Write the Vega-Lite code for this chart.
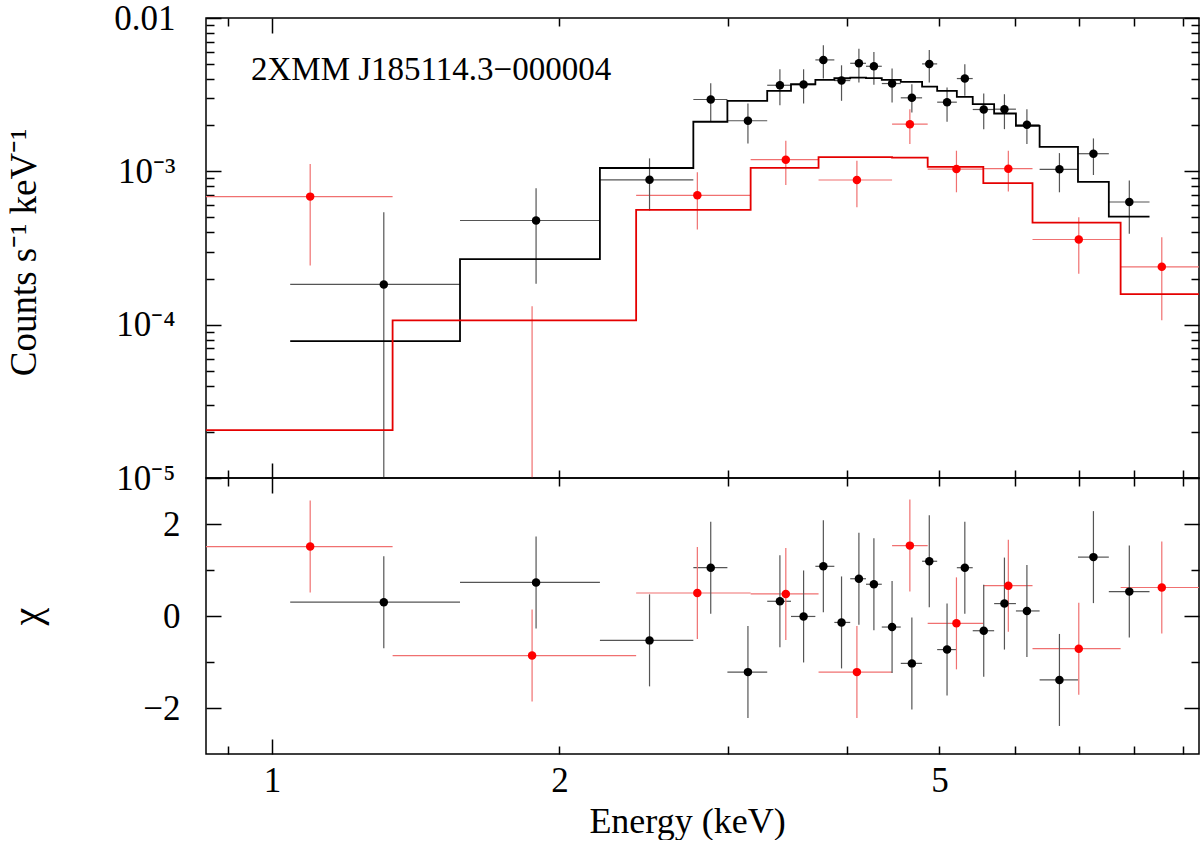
{
  "$schema": "https://vega.github.io/schema/vega-lite/v6.json",
  "background": "white",
  "padding": {"left": 4, "top": 0, "right": 2, "bottom": 0},
  "datasets": {
    "spectrum": [
      {"inst": "pn", "E": 1.3096, "E_lo": 1.045, "E_hi": 1.5738, "flux": 1.83e-4, "flux_lo": 5e-6, "flux_hi": 5.41e-4, "chi": 0.30, "chi_lo": -0.70, "chi_hi": 1.30},
      {"inst": "pn", "E": 1.8906, "E_lo": 1.5738, "E_hi": 2.2052, "flux": 4.78e-4, "flux_lo": 1.85e-4, "flux_hi": 7.75e-4, "chi": 0.73, "chi_lo": -0.27, "chi_hi": 1.73},
      {"inst": "pn", "E": 2.4855, "E_lo": 2.2052, "E_hi": 2.7624, "flux": 8.8e-4, "flux_lo": 5.55e-4, "flux_hi": 1.215e-3, "chi": -0.53, "chi_lo": -1.53, "chi_hi": 0.47},
      {"inst": "pn", "E": 2.8807, "E_lo": 2.7624, "E_hi": 2.9988, "flux": 2.94e-3, "flux_lo": 2.105e-3, "flux_hi": 3.75e-3, "chi": 1.05, "chi_lo": 0.05, "chi_hi": 2.05},
      {"inst": "pn", "E": 3.1511, "E_lo": 2.9988, "E_hi": 3.301, "flux": 2.137e-3, "flux_lo": 1.521e-3, "flux_hi": 2.77e-3, "chi": -1.22, "chi_lo": -2.22, "chi_hi": -0.22},
      {"inst": "pn", "E": 3.4036, "E_lo": 3.301, "E_hi": 3.4958, "flux": 3.642e-3, "flux_lo": 2.70e-3, "flux_hi": 4.63e-3, "chi": 0.32, "chi_lo": -0.68, "chi_hi": 1.32},
      {"inst": "pn", "E": 3.6036, "E_lo": 3.4958, "E_hi": 3.7074, "flux": 3.681e-3, "flux_lo": 2.77e-3, "flux_hi": 4.63e-3, "chi": -0.01, "chi_lo": -1.01, "chi_hi": 0.99},
      {"inst": "pn", "E": 3.7795, "E_lo": 3.7074, "E_hi": 3.881, "flux": 5.33e-3, "flux_lo": 4.03e-3, "flux_hi": 6.64e-3, "chi": 1.08, "chi_lo": 0.08, "chi_hi": 2.08},
      {"inst": "pn", "E": 3.9489, "E_lo": 3.881, "E_hi": 4.0325, "flux": 3.909e-3, "flux_lo": 2.884e-3, "flux_hi": 4.915e-3, "chi": -0.14, "chi_lo": -1.14, "chi_hi": 0.86},
      {"inst": "pn", "E": 4.1178, "E_lo": 4.0325, "E_hi": 4.1888, "flux": 5.065e-3, "flux_lo": 3.793e-3, "flux_hi": 6.313e-3, "chi": 0.81, "chi_lo": -0.19, "chi_hi": 1.81},
      {"inst": "pn", "E": 4.2694, "E_lo": 4.1888, "E_hi": 4.3514, "flux": 4.843e-3, "flux_lo": 3.665e-3, "flux_hi": 6.009e-3, "chi": 0.69, "chi_lo": -0.31, "chi_hi": 1.69},
      {"inst": "pn", "E": 4.4607, "E_lo": 4.3514, "E_hi": 4.5553, "flux": 3.737e-3, "flux_lo": 2.812e-3, "flux_hi": 4.68e-3, "chi": -0.24, "chi_lo": -1.24, "chi_hi": 0.76},
      {"inst": "pn", "E": 4.6787, "E_lo": 4.5553, "E_hi": 4.7955, "flux": 3.016e-3, "flux_lo": 2.42e-3, "flux_hi": 3.698e-3, "chi": -1.03, "chi_lo": -2.03, "chi_hi": -0.03},
      {"inst": "pn", "E": 4.8794, "E_lo": 4.7955, "E_hi": 4.973, "flux": 5.02e-3, "flux_lo": 3.793e-3, "flux_hi": 6.19e-3, "chi": 1.19, "chi_lo": 0.19, "chi_hi": 2.19},
      {"inst": "pn", "E": 5.093, "E_lo": 4.973, "E_hi": 5.2146, "flux": 2.825e-3, "flux_lo": 2.105e-3, "flux_hi": 3.52e-3, "chi": -0.73, "chi_lo": -1.73, "chi_hi": 0.27},
      {"inst": "pn", "E": 5.316, "E_lo": 5.2146, "E_hi": 5.4183, "flux": 4.028e-3, "flux_lo": 3.108e-3, "flux_hi": 4.99e-3, "chi": 1.05, "chi_lo": 0.05, "chi_hi": 2.05},
      {"inst": "pn", "E": 5.5639, "E_lo": 5.4183, "E_hi": 5.7053, "flux": 2.531e-3, "flux_lo": 1.884e-3, "flux_hi": 3.218e-3, "chi": -0.32, "chi_lo": -1.32, "chi_hi": 0.68},
      {"inst": "pn", "E": 5.8488, "E_lo": 5.7053, "E_hi": 6.0131, "flux": 2.543e-3, "flux_lo": 1.884e-3, "flux_hi": 3.184e-3, "chi": 0.27, "chi_lo": -0.73, "chi_hi": 1.27},
      {"inst": "pn", "E": 6.1745, "E_lo": 6.0131, "E_hi": 6.3665, "flux": 2.012e-3, "flux_lo": 1.505e-3, "flux_hi": 2.543e-3, "chi": 0.11, "chi_lo": -0.89, "chi_hi": 1.11},
      {"inst": "pn", "E": 6.6782, "E_lo": 6.3665, "E_hi": 6.9836, "flux": 1.03e-3, "flux_lo": 7.3e-4, "flux_hi": 1.315e-3, "chi": -1.39, "chi_lo": -2.39, "chi_hi": -0.39},
      {"inst": "pn", "E": 7.2488, "E_lo": 6.9836, "E_hi": 7.5228, "flux": 1.303e-3, "flux_lo": 9.46e-4, "flux_hi": 1.639e-3, "chi": 1.28, "chi_lo": 0.28, "chi_hi": 2.28},
      {"inst": "pn", "E": 7.9038, "E_lo": 7.5228, "E_hi": 8.2983, "flux": 6.31e-4, "flux_lo": 3.91e-4, "flux_hi": 8.7e-4, "chi": 0.53, "chi_lo": -0.47, "chi_hi": 1.53},
      {"inst": "mos", "E": 1.0966, "E_lo": 0.8, "E_hi": 1.3377, "flux": 6.84e-4, "flux_lo": 2.435e-4, "flux_hi": 1.1155e-3, "chi": 1.51, "chi_lo": 0.51, "chi_hi": 2.51},
      {"inst": "mos", "E": 1.8725, "E_lo": 1.3377, "E_hi": 2.4065, "flux": 5e-6, "flux_lo": 1e-6, "flux_hi": 1.32e-4, "chi": -0.86, "chi_lo": -1.86, "chi_hi": 0.14},
      {"inst": "mos", "E": 2.7892, "E_lo": 2.4065, "E_hi": 3.1717, "flux": 6.98e-4, "flux_lo": 4.18e-4, "flux_hi": 9.85e-4, "chi": 0.50, "chi_lo": -0.50, "chi_hi": 1.50},
      {"inst": "mos", "E": 3.4524, "E_lo": 3.1717, "E_hi": 3.736, "flux": 1.192e-3, "flux_lo": 8.14e-4, "flux_hi": 1.584e-3, "chi": 0.48, "chi_lo": -0.52, "chi_hi": 1.48},
      {"inst": "mos", "E": 4.098, "E_lo": 3.736, "E_hi": 4.4607, "flux": 8.78e-4, "flux_lo": 5.83e-4, "flux_hi": 1.174e-3, "chi": -1.22, "chi_lo": -2.22, "chi_hi": -0.22},
      {"inst": "mos", "E": 4.6562, "E_lo": 4.4607, "E_hi": 4.8606, "flux": 2.03e-3, "flux_lo": 1.505e-3, "flux_hi": 2.543e-3, "chi": 1.53, "chi_lo": 0.53, "chi_hi": 2.53},
      {"inst": "mos", "E": 5.2097, "E_lo": 4.8606, "E_hi": 5.5585, "flux": 1.035e-3, "flux_lo": 7.3e-4, "flux_hi": 1.363e-3, "chi": -0.16, "chi_lo": -1.16, "chi_hi": 0.84},
      {"inst": "mos", "E": 5.904, "E_lo": 5.5585, "E_hi": 6.2584, "flux": 1.041e-3, "flux_lo": 7.38e-4, "flux_hi": 1.363e-3, "chi": 0.66, "chi_lo": -0.34, "chi_hi": 1.66},
      {"inst": "mos", "E": 6.9971, "E_lo": 6.2584, "E_hi": 7.7398, "flux": 3.594e-4, "flux_lo": 2.147e-4, "flux_hi": 5.02e-4, "chi": -0.71, "chi_lo": -1.71, "chi_hi": 0.29},
      {"inst": "mos", "E": 8.5476, "E_lo": 7.7398, "E_hi": 10.5, "flux": 2.384e-4, "flux_lo": 1.068e-4, "flux_hi": 3.72e-4, "chi": 0.62, "chi_lo": -0.38, "chi_hi": 1.62}
    ],
    "model": [
      {"inst": "pn", "E": 1.045, "m": 7.8e-5},
      {"inst": "pn", "E": 1.5738, "m": 2.675e-4},
      {"inst": "pn", "E": 2.2052, "m": 1.051e-3},
      {"inst": "pn", "E": 2.7624, "m": 2.105e-3},
      {"inst": "pn", "E": 2.9988, "m": 2.884e-3},
      {"inst": "pn", "E": 3.301, "m": 3.35e-3},
      {"inst": "pn", "E": 3.4958, "m": 3.698e-3},
      {"inst": "pn", "E": 3.7074, "m": 3.95e-3},
      {"inst": "pn", "E": 3.881, "m": 4.046e-3},
      {"inst": "pn", "E": 4.0325, "m": 4.089e-3},
      {"inst": "pn", "E": 4.1888, "m": 4.058e-3},
      {"inst": "pn", "E": 4.3514, "m": 3.95e-3},
      {"inst": "pn", "E": 4.5553, "m": 3.834e-3},
      {"inst": "pn", "E": 4.7955, "m": 3.573e-3},
      {"inst": "pn", "E": 4.973, "m": 3.35e-3},
      {"inst": "pn", "E": 5.2146, "m": 3.062e-3},
      {"inst": "pn", "E": 5.4183, "m": 2.741e-3},
      {"inst": "pn", "E": 5.7053, "m": 2.384e-3},
      {"inst": "pn", "E": 6.0131, "m": 1.977e-3},
      {"inst": "pn", "E": 6.3665, "m": 1.443e-3},
      {"inst": "pn", "E": 6.9836, "m": 8.54e-4},
      {"inst": "pn", "E": 7.5228, "m": 5.058e-4},
      {"inst": "pn", "E": 8.2983, "m": 5.058e-4},
      {"inst": "mos", "E": 0.8, "m": 2.055e-5},
      {"inst": "mos", "E": 1.3377, "m": 1.068e-4},
      {"inst": "mos", "E": 2.4065, "m": 5.6e-4},
      {"inst": "mos", "E": 3.1717, "m": 1.054e-3},
      {"inst": "mos", "E": 3.736, "m": 1.239e-3},
      {"inst": "mos", "E": 4.4607, "m": 1.228e-3},
      {"inst": "mos", "E": 4.8606, "m": 1.07e-3},
      {"inst": "mos", "E": 5.5585, "m": 8.38e-4},
      {"inst": "mos", "E": 6.2584, "m": 4.623e-4},
      {"inst": "mos", "E": 7.7398, "m": 1.583e-4},
      {"inst": "mos", "E": 10.5, "m": 1.583e-4}
    ],
    "label": [
      {"text": "2XMM J185114.3−000004", "E": 0.9507, "flux": 3.95e-3}
    ]
  },
  "spacing": 0,
  "bounds": "flush",
  "vconcat": [
    {
      "width": 993,
      "height": 460,
      "layer": [
        {
          "data": {"name": "spectrum"},
          "mark": {"type": "rule", "clip": true, "strokeWidth": 1.2},
          "encoding": {
            "x": {
              "field": "E_lo", "type": "quantitative",
              "scale": {"type": "log", "domain": [0.853, 9.35], "nice": false},
              "axis": {
                "orient": "bottom", "values": [0.9, 1, 2, 3, 4, 5, 6, 7, 8, 9], "labels": false, "title": null,
                "tickSize": {"condition": {"test": "datum.value === 1", "value": -15}, "value": -8}
              }
            },
            "x2": {"field": "E_hi"},
            "y": {
              "field": "flux", "type": "quantitative",
              "scale": {"type": "log", "domain": [0.00001, 0.01], "nice": false},
              "axis": {
                "orient": "left",
                "values": [0.00001, 0.00002, 0.00003, 0.00004, 0.00005, 0.00006, 0.00007, 0.00008, 0.00009, 0.0001, 0.0002, 0.0003, 0.0004, 0.0005, 0.0006, 0.0007, 0.0008, 0.0009, 0.001, 0.002, 0.003, 0.004, 0.005, 0.006, 0.007, 0.008, 0.009, 0.01],
                "tickSize": {"condition": {"test": "datum.value === 0.00001 || datum.value === 0.0001 || datum.value === 0.001 || datum.value === 0.01", "value": -15}, "value": -8},
                "labelExpr": "datum.value === 0.01 ? '0.01' : datum.value === 0.001 ? '10⁻³' : datum.value === 0.0001 ? '10⁻⁴' : datum.value === 0.00001 ? '10⁻⁵' : ''",
                "labelPadding": 46,
                "labelBaseline": "middle",
                "title": "Counts s⁻¹ keV⁻¹",
                "titleFontSize": 37,
                "titleX": -182,
                "titleY": 234,
                "titleBaseline": "middle"
              }
            },
            "color": {"condition": {"test": "datum.inst === 'mos'", "value": "#f07070"}, "value": "#555555"}
          }
        },
        {
          "data": {"name": "spectrum"},
          "mark": {"type": "rule", "clip": true, "strokeWidth": 1.2},
          "encoding": {
            "x": {"field": "E", "type": "quantitative", "axis": null},
            "y": {"field": "flux_lo", "type": "quantitative", "axis": null},
            "y2": {"field": "flux_hi"},
            "color": {"condition": {"test": "datum.inst === 'mos'", "value": "#f07070"}, "value": "#555555"}
          }
        },
        {
          "data": {"name": "model"},
          "mark": {"type": "line", "clip": true, "interpolate": "step-after", "strokeWidth": 1.8},
          "encoding": {
            "x": {"field": "E", "type": "quantitative", "axis": null},
            "y": {"field": "m", "type": "quantitative", "axis": null},
            "detail": {"field": "inst"},
            "color": {"condition": {"test": "datum.inst === 'mos'", "value": "#e50000"}, "value": "black"}
          }
        },
        {
          "data": {"name": "spectrum"},
          "mark": {"type": "circle", "clip": true, "size": 72, "opacity": 1},
          "encoding": {
            "x": {"field": "E", "type": "quantitative", "axis": null},
            "y": {"field": "flux", "type": "quantitative", "axis": null},
            "color": {"condition": {"test": "datum.inst === 'mos'", "value": "#ff0000"}, "value": "black"}
          }
        },
        {
          "data": {"name": "label"},
          "mark": {"type": "text", "align": "left", "baseline": "alphabetic", "fontSize": 33, "font": "Liberation Serif", "color": "black"},
          "encoding": {
            "x": {"field": "E", "type": "quantitative", "axis": null},
            "y": {"field": "flux", "type": "quantitative", "axis": null},
            "text": {"field": "text"}
          }
        },
        {
          "data": {"name": "spectrum"},
          "mark": {"type": "point", "opacity": 0},
          "encoding": {
            "x": {
              "field": "E", "type": "quantitative",
              "axis": {
                "orient": "top", "values": [0.9, 1, 2, 3, 4, 5, 6, 7, 8, 9], "labels": false, "title": null,
                "tickSize": {"condition": {"test": "datum.value === 1", "value": -15}, "value": -8}
              }
            },
            "y": {
              "field": "flux", "type": "quantitative",
              "axis": {
                "orient": "right",
                "values": [0.00001, 0.00002, 0.00003, 0.00004, 0.00005, 0.00006, 0.00007, 0.00008, 0.00009, 0.0001, 0.0002, 0.0003, 0.0004, 0.0005, 0.0006, 0.0007, 0.0008, 0.0009, 0.001, 0.002, 0.003, 0.004, 0.005, 0.006, 0.007, 0.008, 0.009, 0.01],
                "tickSize": {"condition": {"test": "datum.value === 0.00001 || datum.value === 0.0001 || datum.value === 0.001 || datum.value === 0.01", "value": -15}, "value": -8},
                "labels": false, "title": null
              }
            }
          }
        }
      ],
      "resolve": {"axis": {"x": "independent", "y": "independent"}}
    },
    {
      "width": 993,
      "height": 276,
      "layer": [
        {
          "data": {"name": "spectrum"},
          "mark": {"type": "rule", "clip": true, "strokeWidth": 1.2},
          "encoding": {
            "x": {
              "field": "E_lo", "type": "quantitative",
              "scale": {"type": "log", "domain": [0.853, 9.35], "nice": false},
              "axis": {
                "orient": "bottom", "values": [0.9, 1, 2, 3, 4, 5, 6, 7, 8, 9],
                "labelExpr": "datum.value === 1 ? '1' : datum.value === 2 ? '2' : datum.value === 5 ? '5' : ''",
                "tickSize": {"condition": {"test": "datum.value === 1", "value": -15}, "value": -8},
                "labelPadding": {"condition": {"test": "datum.value === 1", "value": 24}, "value": 17},
                "labelBaseline": "top",
                "title": "Energy (keV)",
                "titleFontSize": 36,
                "titleBaseline": "alphabetic",
                "titleX": 481,
                "titleY": 78
              }
            },
            "x2": {"field": "E_hi"},
            "y": {
              "field": "chi", "type": "quantitative",
              "scale": {"domain": [-3, 3], "nice": false, "zero": false},
              "axis": {
                "orient": "left", "values": [-2, -1, 0, 1, 2],
                "tickSize": {"condition": {"test": "datum.value === 1 || datum.value === -1", "value": -8}, "value": -15},
                "labelExpr": "datum.value === 2 ? '2' : datum.value === 0 ? '0' : datum.value === -2 ? '−2' : ''",
                "labelPadding": 41,
                "labelBaseline": "middle",
                "title": "χ",
                "titleFontSize": 40,
                "titleX": -179,
                "titleBaseline": "middle"
              }
            },
            "color": {"condition": {"test": "datum.inst === 'mos'", "value": "#f07070"}, "value": "#555555"}
          }
        },
        {
          "data": {"name": "spectrum"},
          "mark": {"type": "rule", "clip": true, "strokeWidth": 1.2},
          "encoding": {
            "x": {"field": "E", "type": "quantitative", "axis": null},
            "y": {"field": "chi_lo", "type": "quantitative", "axis": null},
            "y2": {"field": "chi_hi"},
            "color": {"condition": {"test": "datum.inst === 'mos'", "value": "#f07070"}, "value": "#555555"}
          }
        },
        {
          "mark": {"type": "rule", "color": "#222222", "strokeWidth": 1.5, "strokeDash": [12, 8]},
          "encoding": {
            "y": {"datum": 0, "type": "quantitative", "axis": null}
          }
        },
        {
          "data": {"name": "spectrum"},
          "mark": {"type": "circle", "clip": true, "size": 72, "opacity": 1},
          "encoding": {
            "x": {"field": "E", "type": "quantitative", "axis": null},
            "y": {"field": "chi", "type": "quantitative", "axis": null},
            "color": {"condition": {"test": "datum.inst === 'mos'", "value": "#ff0000"}, "value": "black"}
          }
        },
        {
          "data": {"name": "spectrum"},
          "mark": {"type": "point", "opacity": 0},
          "encoding": {
            "x": {
              "field": "E", "type": "quantitative",
              "axis": {
                "orient": "top", "values": [0.9, 1, 2, 3, 4, 5, 6, 7, 8, 9], "labels": false, "title": null,
                "tickSize": {"condition": {"test": "datum.value === 1", "value": -15}, "value": -8}
              }
            },
            "y": {
              "field": "chi", "type": "quantitative",
              "axis": {
                "orient": "right", "values": [-2, -1, 0, 1, 2], "labels": false, "title": null,
                "tickSize": {"condition": {"test": "datum.value === 1 || datum.value === -1", "value": -8}, "value": -15}
              }
            }
          }
        }
      ],
      "resolve": {"axis": {"x": "independent", "y": "independent"}}
    }
  ],
  "config": {
    "view": {"stroke": "black", "strokeWidth": 1.5},
    "axis": {
      "domain": false,
      "grid": false,
      "tickColor": "black",
      "tickWidth": 1.5,
      "labelFont": "Liberation Serif",
      "labelFontSize": 35,
      "labelColor": "black",
      "labelFlush": false,
      "labelOverlap": false,
      "titleFont": "Liberation Serif",
      "titleFontSize": 35,
      "titleFontWeight": "normal",
      "titleColor": "black"
    },
    "text": {"font": "Liberation Serif"}
  }
}
